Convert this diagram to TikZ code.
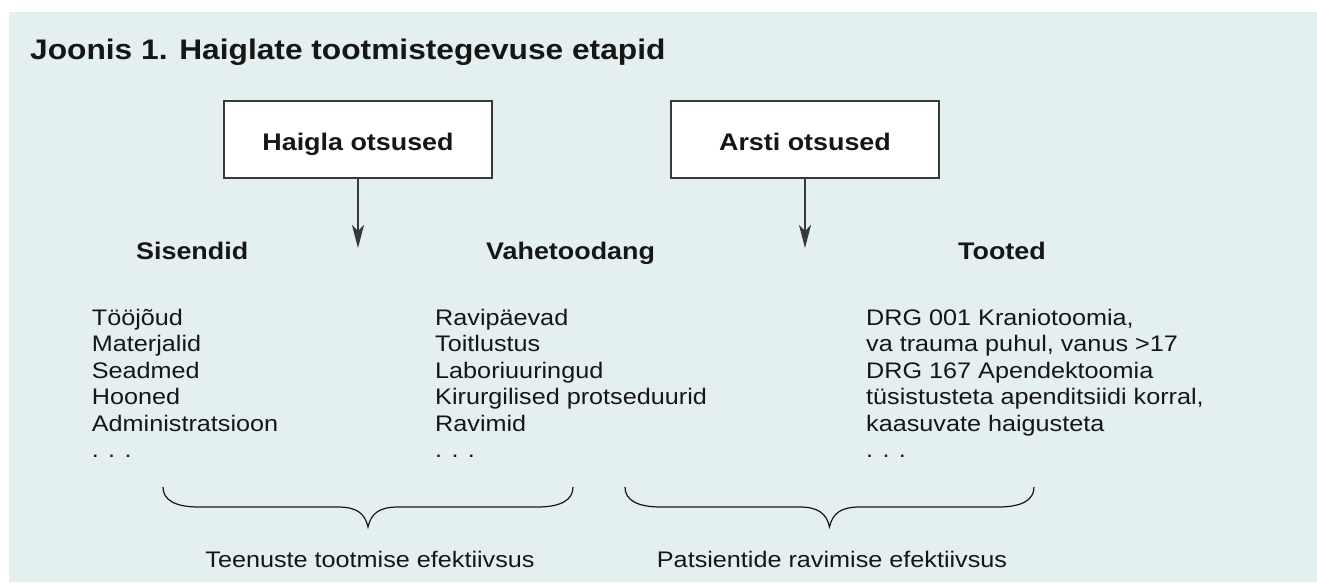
\documentclass[tikz,border=0pt]{standalone}
\usepackage{fontspec}
\setmainfont[FakeStretch=1.12]{Liberation Sans}
\usetikzlibrary{arrows.meta}
\definecolor{panel}{RGB}{228,240,240}
\definecolor{ink}{RGB}{22,22,22}
\newcommand\mybrace[2]{%
  \pgfmathsetmacro\xc{(#1+#2)/2}%
  \draw[bracestyle] (#1,487) .. controls (#1,500) and (#1+12,507) .. (#1+36,507)
    -- (\xc-30,507) .. controls (\xc-12,507) and (\xc-3,513) .. (\xc,527)
    .. controls (\xc+3,513) and (\xc+12,507) .. (\xc+30,507)
    -- (#2-36,507) .. controls (#2-12,507) and (#2,500) .. (#2,487);%
}
\begin{document}
\begin{tikzpicture}[x=1pt,y=-1pt,
  txt/.style={font=\fontsize{22.5}{26.5}\selectfont, text=ink, inner sep=0pt, anchor=base west},
  head/.style={font=\fontsize{24}{28}\selectfont\bfseries, text=ink, inner sep=0pt, anchor=base west},
  titlestyle/.style={font=\fontsize{28.3}{32}\selectfont\bfseries, text=ink, inner sep=0pt, anchor=base west},
  decision/.style={draw=ink!85, line width=1.1pt, fill=white, minimum width=268pt, minimum height=77pt,
    font=\fontsize{24}{28}\selectfont\bfseries, text=ink, inner sep=0pt, text height=21pt, text depth=0pt},
  flow/.style={draw=ink!85, line width=1.1pt, -{Stealth[length=23pt,width=12pt,inset=6pt]}},
  bracestyle/.style={draw=ink, line width=1.2pt},
]
\fill[white] (0,0) rectangle (1317,582);
\fill[panel] (9,12) rectangle (1317,582);
\useasboundingbox (0,0) rectangle (1317,582);

\node[titlestyle] (title) at (30,59) {Joonis 1. Haiglate tootmistegevuse etapid};

\node[decision] (hosp) at (358,139.5) {Haigla otsused};
\node[decision] (doc) at (805,139.5) {Arsti otsused};
\coordinate (hospend) at (358,248);
\coordinate (docend) at (805,248);
\draw[flow] (hosp.south) -- (hospend);
\draw[flow] (doc.south) -- (docend);

\node[head] (inputs) at (136,259) {Sisendid};
\node[head] (inter) at (486,259) {Vahetoodang};
\node[head] (products) at (958,259) {Tooted};

\foreach \t [count=\i] in {Tööjõud, Materjalid, Seadmed, Hooned, Administratsioon, {. . .}}
  \node[txt] (in\i) at (91.7,{325+26.5*(\i-1)}) {\t};
\foreach \t [count=\i] in {Ravipäevad, Toitlustus, Laboriuuringud, Kirurgilised protseduurid, Ravimid, {. . .}}
  \node[txt] (mid\i) at (435,{325+26.5*(\i-1)}) {\t};
\foreach \t [count=\i] in {{DRG 001 Kraniotoomia,}, {va trauma puhul, vanus >17}, {DRG 167 Apendektoomia}, {tüsistusteta apenditsiidi korral,}, {kaasuvate haigusteta}, {. . .}}
  \node[txt] (out\i) at (866,{325+26.5*(\i-1)}) {\t};

\mybrace{163}{573}
\mybrace{625}{1034}

\node[txt, anchor=base] (eff1) at (370,567) {Teenuste tootmise efektiivsus};
\node[txt, anchor=base] (eff2) at (832,567) {Patsientide ravimise efektiivsus};
\end{tikzpicture}
\end{document}
